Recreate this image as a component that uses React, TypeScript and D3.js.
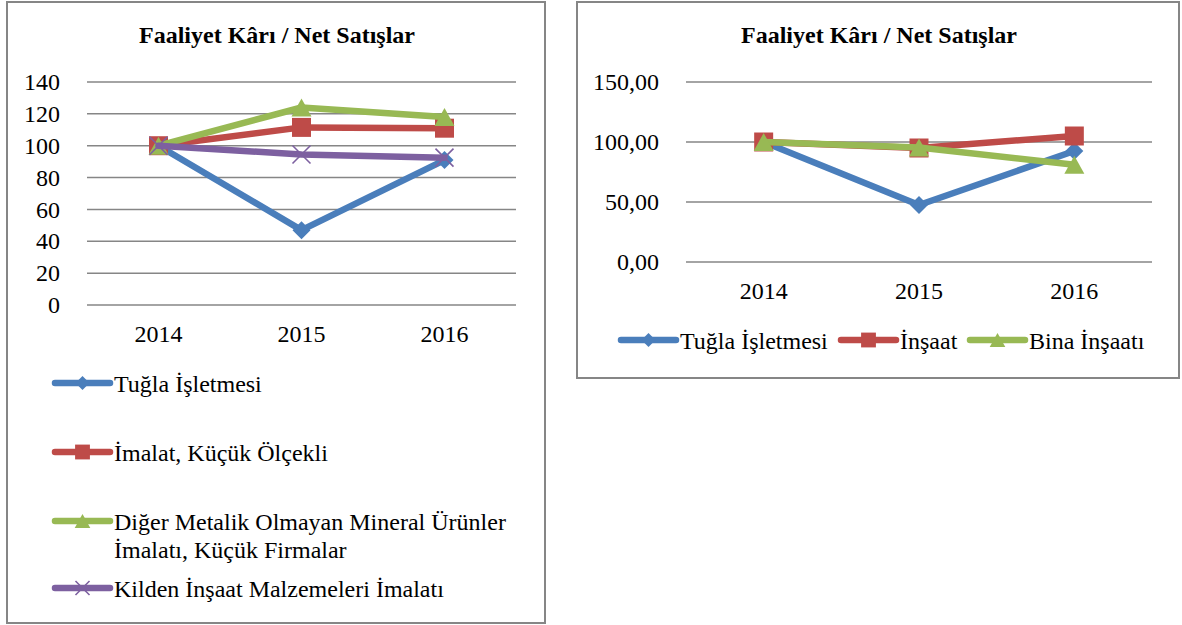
import React, { useEffect, useRef } from 'react';
import * as d3 from 'd3';

const years = ['2014', '2015', '2016'];

// left chart
const leftTugla = [100, 47, 91];
const leftImalat = [100, 111.5, 111];
const leftDiger = [100, 124, 118];
const leftKilden = [100, 94.5, 92.5];
const leftTicks = [0, 20, 40, 60, 80, 100, 120, 140];

// right chart
const rightTugla = [100, 47.5, 92.5];
const rightInsaat = [100, 95, 105];
const rightBina = [100, 95.5, 81];
const rightTicks = [0, 50, 100, 150];

const title = 'Faaliyet Kârı / Net Satışlar';
const FONT = "'Times New Roman', 'Liberation Serif', 'DejaVu Serif', serif";
const FS = 24;

const trLocale = d3.formatLocale({ decimal: ',', thousands: '.', grouping: [3], currency: ['', ''] });

// excel-like marker shapes, k scales them down for the legend
const markerPath = (type, k) => {
    const p = d3.path();
    if (type === 'diamond') {
        const r = 9 * k;
        p.moveTo(0, -r); p.lineTo(r, 0); p.lineTo(0, r); p.lineTo(-r, 0); p.closePath();
    } else if (type === 'square') {
        const r = 9.5 * k;
        p.rect(-r, -r, 2 * r, 2 * r);
    } else if (type === 'triangle') {
        const w = 10 * k, h = 9 * k;
        p.moveTo(0, -h); p.lineTo(w, h); p.lineTo(-w, h); p.closePath();
    } else {
        const r = 9 * k;
        p.moveTo(-r, -r); p.lineTo(r, r); p.moveTo(r, -r); p.lineTo(-r, r);
    }
    return p.toString();
};

const drawMarker = (g, type, color, x, y, k = 1) => {
    const m = g.append('path')
        .attr('d', markerPath(type, k))
        .attr('transform', `translate(${x},${y})`);
    if (type === 'x') {
        m.attr('fill', 'none').attr('stroke', color).attr('stroke-width', 1.6);
    } else {
        m.attr('fill', color);
    }
};

const drawChart = (svg, cfg) => {
    const g = svg.append('g').style('font-family', FONT);

    // frame
    g.append('rect')
        .attr('x', cfg.box[0])
        .attr('y', cfg.box[1])
        .attr('width', cfg.box[2])
        .attr('height', cfg.box[3])
        .attr('fill', '#fff')
        .attr('stroke', '#868686')
        .attr('stroke-width', 2);

    g.append('text')
        .attr('x', cfg.box[0] + cfg.box[2] / 2 + 1)
        .attr('y', 43)
        .attr('text-anchor', 'middle')
        .attr('font-weight', 'bold')
        .attr('font-size', FS)
        .text(title);

    const x = d3.scaleBand().domain(years).range([cfg.plot.left, cfg.plot.right]);
    const y = d3.scaleLinear().domain([0, d3.max(cfg.ticks)]).range([cfg.plot.bottom, cfg.plot.top]);

    // gridlines
    g.append('g')
        .selectAll('line')
        .data(cfg.ticks)
        .join('line')
        .attr('x1', cfg.plot.left)
        .attr('x2', cfg.plot.right)
        .attr('y1', d => y(d))
        .attr('y2', d => y(d))
        .attr('stroke', '#868686')
        .attr('stroke-width', 1.5);

    g.append('g')
        .selectAll('text')
        .data(cfg.ticks)
        .join('text')
        .attr('x', cfg.plot.left - 27)
        .attr('y', d => y(d))
        .attr('dy', '0.34em')
        .attr('text-anchor', 'end')
        .attr('font-size', FS)
        .text(d => cfg.fmt(d));

    g.append('g')
        .selectAll('text')
        .data(years)
        .join('text')
        .attr('x', d => x(d) + x.bandwidth() / 2)
        .attr('y', cfg.plot.bottom + 37)
        .attr('text-anchor', 'middle')
        .attr('font-size', FS)
        .text(d => d);

    const line = d3.line()
        .x((d, i) => x(years[i]) + x.bandwidth() / 2)
        .y(d => y(d));

    cfg.series.forEach(s => {
        g.append('path')
            .datum(s.values)
            .attr('d', line)
            .attr('fill', 'none')
            .attr('stroke', s.color)
            .attr('stroke-width', 6.5)
            .attr('stroke-linejoin', 'round')
            .attr('stroke-linecap', 'round');
        s.values.forEach((v, i) => {
            drawMarker(g, s.marker, s.color, x(years[i]) + x.bandwidth() / 2, y(v));
        });
    });

    // legend
    cfg.legend.forEach((item, idx) => {
        const s = cfg.series[idx];
        const lg = g.append('g');
        lg.append('line')
            .attr('x1', item.x)
            .attr('x2', item.x + 55)
            .attr('y1', item.y)
            .attr('y2', item.y)
            .attr('stroke', s.color)
            .attr('stroke-width', 6.5)
            .attr('stroke-linecap', 'round');
        drawMarker(lg, s.marker, s.color, item.x + 27.5, item.y, 0.78);
        item.lines.forEach((t, k) => {
            lg.append('text')
                .attr('x', item.x + 59)
                .attr('y', item.y + k * 28)
                .attr('dy', '0.37em')
                .attr('font-size', FS)
                .text(t);
        });
    });
};

const App = () => {
    const svgRef = useRef();

    useEffect(() => {
        const svg = d3.select(svgRef.current);
        svg.selectAll('*').remove();

        drawChart(svg, {
            box: [7, 2, 538, 621],
            plot: { left: 87, right: 516, top: 82, bottom: 305 },
            ticks: leftTicks,
            fmt: d => String(d),
            series: [
                { values: leftTugla, color: '#4A7EBB', marker: 'diamond' },
                { values: leftImalat, color: '#BE4B48', marker: 'square' },
                { values: leftDiger, color: '#98B954', marker: 'triangle' },
                { values: leftKilden, color: '#7D60A0', marker: 'x' }
            ],
            legend: [
                { x: 55, y: 383, lines: ['Tuğla İşletmesi'] },
                { x: 55, y: 452, lines: ['İmalat, Küçük Ölçekli'] },
                { x: 55, y: 521, lines: ['Diğer Metalik Olmayan Mineral Ürünler', 'İmalatı, Küçük Firmalar'] },
                { x: 55, y: 588, lines: ['Kilden İnşaat Malzemeleri İmalatı'] }
            ]
        });

        drawChart(svg, {
            box: [577, 2, 602, 376],
            plot: { left: 686, right: 1152, top: 82, bottom: 262 },
            ticks: rightTicks,
            fmt: trLocale.format('.2f'),
            series: [
                { values: rightTugla, color: '#4A7EBB', marker: 'diamond' },
                { values: rightInsaat, color: '#BE4B48', marker: 'square' },
                { values: rightBina, color: '#98B954', marker: 'triangle' }
            ],
            legend: [
                { x: 621, y: 340, lines: ['Tuğla İşletmesi'] },
                { x: 841, y: 340, lines: ['İnşaat'] },
                { x: 970, y: 340, lines: ['Bina İnşaatı'] }
            ]
        });
    }, []);

    return (
        <svg
            ref={svgRef}
            width={1182}
            height={625}
            style={{ position: 'absolute', left: 0, top: 0, background: '#fff' }}
        ></svg>
    );
};

export default App;
